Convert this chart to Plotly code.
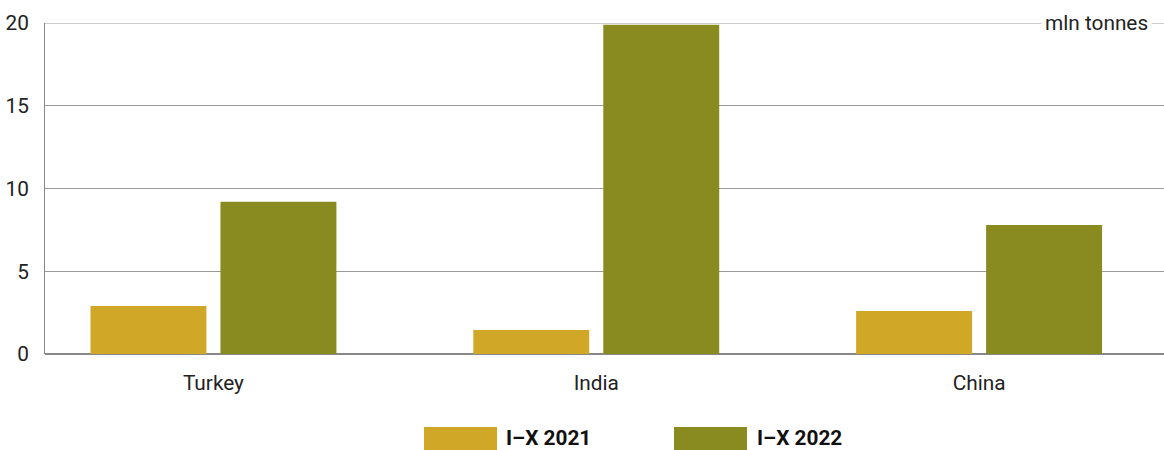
import plotly.graph_objects as go

# Imports by destination country, million tonnes
countries = ["Turkey", "India", "China"]
series_names = ["I\u2013X 2021", "I\u2013X 2022"]
values_2021 = [2.9, 1.45, 2.6]
values_2022 = [9.2, 19.9, 7.8]
y_ticks = [0, 5, 10, 15, 20]

colors = ["#D1A728", "#898A1F"]
font_family = "Roboto, 'Noto Sans', sans-serif"
fs = 20.8

fig = go.Figure()
for name, vals, col in zip(series_names, [values_2021, values_2022], colors):
    fig.add_trace(go.Bar(x=countries, y=vals, name=name, marker_color=col,
                         marker_line_width=0, showlegend=False, hoverinfo="x+y"))

fig.update_layout(
    width=1164, height=450,
    margin=dict(l=45, r=0, t=23, b=96),
    plot_bgcolor="white", paper_bgcolor="white",
    barmode="group", bargap=0.321, bargroupgap=0.108,
    font=dict(family=font_family, size=fs, color="#222222"),
    xaxis=dict(range=[-0.44, 2.483], showgrid=False, ticks="", showline=False,
               tickfont=dict(size=fs, color="#222222"), ticklabelstandoff=14),
    yaxis=dict(range=[0, 20], tickvals=y_ticks, showgrid=True, gridcolor="#9a9a9a",
               gridwidth=1, zeroline=True, zerolinecolor="#888888", zerolinewidth=2,
               showline=True, linecolor="#888888", linewidth=1, ticks="",
               ticklabelstandoff=11, tickfont=dict(size=fs, color="#222222")),
)

# top gridline at the axis maximum
fig.add_shape(type="line", xref="paper", yref="y", x0=0, x1=1, y0=20, y1=20,
              line=dict(color="#9a9a9a", width=1), layer="below")

# unit label on the top gridline
fig.add_annotation(xref="paper", yref="y", x=(1152 - 45) / 1119, y=20,
                   xanchor="right", yanchor="middle",
                   text="mln tonnes", showarrow=False, bgcolor="white",
                   font=dict(size=fs, color="#222222"), borderpad=3)

# legend drawn as wide swatches with bold labels
legend_items = [(424, 497, 505), (674, 747, 756)]
for (x0, x1, tx), name, col in zip(legend_items, series_names, colors):
    fig.add_shape(type="rect", xref="paper", yref="paper",
                  x0=(x0 - 45) / 1119, x1=(x1 - 45) / 1119,
                  y0=(354 - 450) / 331, y1=(354 - 427) / 331,
                  fillcolor=col, line_width=0, layer="above")
    fig.add_annotation(xref="paper", yref="paper", x=(tx - 45) / 1119, y=(354 - 438) / 331,
                       xanchor="left", yanchor="middle", text="<b>" + name + "</b>",
                       showarrow=False, borderpad=0, font=dict(size=fs, color="#111111"))

fig.write_html("out.html")
